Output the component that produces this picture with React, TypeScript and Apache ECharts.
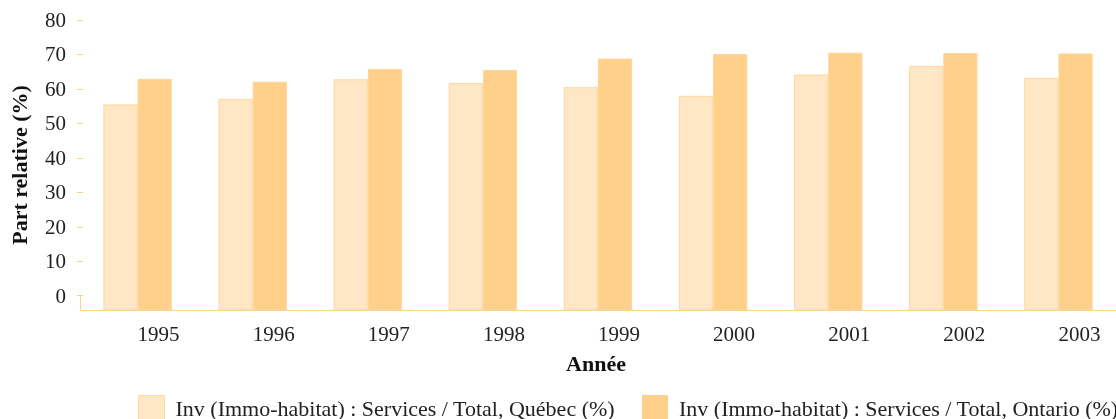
import React, { useEffect, useRef } from "react";
import * as echarts from "echarts";

const years = ["1995", "1996", "1997", "1998", "1999", "2000", "2001", "2002", "2003"];
const quebec = [55.5, 57.1, 62.8, 61.7, 60.5, 58.0, 64.2, 66.7, 63.2];
const ontario = [62.9, 62.1, 65.8, 65.5, 68.8, 70.1, 70.5, 70.4, 70.3];
const yTicks = [0, 10, 20, 30, 40, 50, 60, 70, 80];
const yMin = -4.15;
const yMax = 80;

const nameQ = "Inv (Immo-habitat) : Services / Total, Québec (%)";
const nameO = "Inv (Immo-habitat) : Services / Total, Ontario (%)";

const FONT = "'Liberation Serif', 'DejaVu Serif', serif";
const AXIS_COLOR = "#FDD08E";
const Q_FILL = "#FFE6C5";
const Q_STROKE = "#FFD89B";
const O_FILL = "#FFD08A";
const O_STROKE = "#FFD699";
const BAR_FRAC = 0.297;

function makeRender(offset: number, fill: string, stroke: string) {
  return (params: any, api: any) => {
    const cat = api.value(0);
    const val = api.value(1);
    const top = api.coord([cat, val]);
    const bottom = api.coord([cat, yMin]);
    const band = api.size([1, 0])[0];
    const bw = band * BAR_FRAC;
    const x = top[0] + offset * bw;
    return {
      type: "rect",
      shape: { x: x + 0.5, y: top[1] + 0.5, width: bw - 1, height: bottom[1] - top[1] - 0.5 },
      style: { fill, stroke, lineWidth: 1 },
    };
  };
}

export default function App() {
  const ref = useRef<HTMLDivElement>(null);
  useEffect(() => {
    if (!ref.current) return;
    const chart = echarts.init(ref.current, null, { renderer: "svg" });
    const legendText = { fontFamily: FONT, fontSize: 22, color: "#222", padding: [0, 0, 0, 6] };
    const option: any = {
      animation: false,
      grid: { left: 79, right: -9, top: 20, bottom: 109, containLabel: false },
      legend: [
        {
          left: 138,
          top: 395,
          padding: 0,
          itemWidth: 26,
          itemHeight: 26,
          icon: "rect",
          textStyle: legendText,
          data: [{ name: nameQ, itemStyle: { color: Q_FILL, borderColor: Q_STROKE, borderWidth: 1 } }],
        },
        {
          left: 642,
          top: 395,
          padding: 0,
          itemWidth: 26,
          itemHeight: 26,
          icon: "rect",
          textStyle: legendText,
          data: [{ name: nameO, itemStyle: { color: O_FILL, borderColor: O_STROKE, borderWidth: 0 } }],
        },
      ],
      xAxis: {
        type: "category",
        data: years,
        boundaryGap: true,
        name: "Année",
        nameLocation: "middle",
        nameGap: 42,
        nameTextStyle: {
          fontFamily: FONT,
          fontSize: 22,
          fontWeight: "bold",
          color: "#111",
          padding: [0, 4, 0, 0],
        },
        axisLine: { onZero: false, lineStyle: { color: AXIS_COLOR, width: 1 } },
        axisTick: { inside: true, length: 7, interval: 0, lineStyle: { color: AXIS_COLOR } },
        axisLabel: {
          align: "left",
          margin: 13,
          fontFamily: FONT,
          fontSize: 21,
          color: "#222",
        },
        splitLine: { show: false },
      },
      yAxis: {
        type: "value",
        min: yMin,
        max: yMax,
        offset: -3,
        name: "Part relative (%)",
        nameLocation: "middle",
        nameRotate: 90,
        nameGap: 53,
        nameTextStyle: { fontFamily: FONT, fontSize: 22, fontWeight: "bold", color: "#111" },
        axisLine: { show: false },
        axisTick: {
          show: true,
          length: 6,
          customValues: yTicks,
          lineStyle: { color: AXIS_COLOR },
        },
        axisLabel: {
          customValues: yTicks,
          margin: 17,
          fontFamily: FONT,
          fontSize: 21,
          color: "#222",
        },
        splitLine: { show: false },
      },
      series: [
        {
          name: nameQ,
          type: "custom",
          renderItem: makeRender(-1, Q_FILL, Q_STROKE),
          itemStyle: { color: Q_FILL, borderColor: Q_STROKE, borderWidth: 1 },
          encode: { x: 0, y: 1 },
          data: quebec.map((v, i) => [i, v]),
          z: 2,
        },
        {
          name: nameO,
          type: "custom",
          renderItem: makeRender(0, O_FILL, O_STROKE),
          itemStyle: { color: O_FILL },
          encode: { x: 0, y: 1 },
          data: ontario.map((v, i) => [i, v]),
          z: 2,
        },
      ],
    };
    chart.setOption(option);
    const p0 = chart.convertToPixel({ gridIndex: 0 }, [0, 0]) as number[];
    const p1 = chart.convertToPixel({ gridIndex: 0 }, [1, yMin]) as number[];
    const band = p1[0] - p0[0];
    const leftX = Math.round(p0[0] - band / 2) + 0.5;
    chart.setOption({
      graphic: [
        {
          type: "line",
          shape: { x1: leftX, y1: p0[1], x2: leftX, y2: p1[1] },
          style: { stroke: AXIS_COLOR, lineWidth: 1 },
          silent: true,
        },
      ],
    });
    return () => chart.dispose();
  }, []);
  return (
    <div
      ref={ref}
      style={{ position: "fixed", left: 0, top: 0, width: 1116, height: 419 }}
    />
  );
}
